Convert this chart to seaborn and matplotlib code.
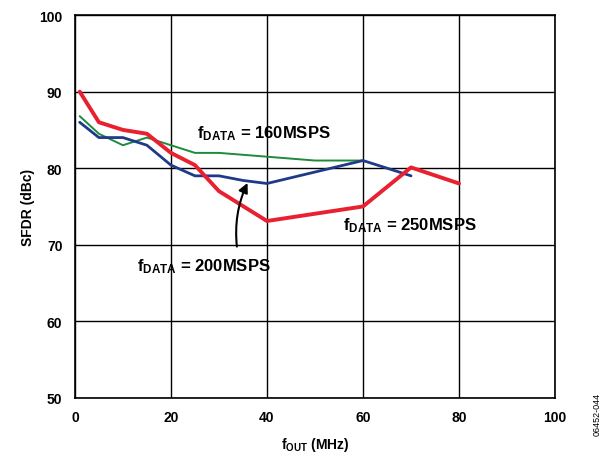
import pandas as pd
import matplotlib
matplotlib.use("Agg")
import matplotlib.pyplot as plt
import seaborn as sns

# SFDR vs fOUT for three data rates
f_160 = [1, 5, 10, 15, 20, 25, 30, 40, 50, 60]
sfdr_160 = [86.8, 84.5, 83.0, 84.0, 83.0, 82.0, 82.0, 81.5, 81.0, 81.0]

f_200 = [1, 5, 10, 15, 20, 25, 30, 35, 40, 60, 70]
sfdr_200 = [86.0, 84.0, 84.0, 83.0, 80.4, 79.0, 79.0, 78.4, 78.0, 81.0, 79.0]

f_250 = [1, 5, 10, 15, 20, 25, 30, 40, 60, 70, 80]
sfdr_250 = [90.0, 86.0, 85.0, 84.5, 82.0, 80.4, 77.0, 73.1, 75.0, 80.1, 78.0]

x_ticks = [0, 20, 40, 60, 80, 100]
y_ticks = [50, 60, 70, 80, 90, 100]

sns.set_style("white")
plt.rcParams['font.family'] = ['Liberation Sans', 'DejaVu Sans']
plt.rcParams['text.color'] = 'black'
plt.rcParams['axes.labelcolor'] = 'black'
plt.rcParams['xtick.color'] = 'black'
plt.rcParams['ytick.color'] = 'black'
plt.rcParams['mathtext.fontset'] = 'custom'
plt.rcParams['mathtext.rm'] = 'Liberation Sans:bold'
plt.rcParams['mathtext.bf'] = 'Liberation Sans:bold'
plt.rcParams['mathtext.it'] = 'Liberation Sans:bold'

df = pd.concat([
    pd.DataFrame({'f': f_160, 'sfdr': sfdr_160, 'rate': '160'}),
    pd.DataFrame({'f': f_200, 'sfdr': sfdr_200, 'rate': '200'}),
    pd.DataFrame({'f': f_250, 'sfdr': sfdr_250, 'rate': '250'}),
])

fig = plt.figure(figsize=(6.04, 4.6), dpi=100)
ax = fig.add_axes([0.124, 0.133, 0.795, 0.832])

colors = {'160': '#1e8a3c', '200': '#1f3a8a', '250': '#e8202f'}
widths = {'160': 1.4, '200': 2.0, '250': 2.8}
for rate in ['160', '200', '250']:
    sns.lineplot(data=df[df['rate'] == rate], x='f', y='sfdr', ax=ax,
                 color=colors[rate], linewidth=widths[rate], legend=False)

ax.set_xlim(0, 100)
ax.set_ylim(50, 100)
ax.set_xticks(x_ticks)
ax.set_yticks(y_ticks)
ax.set_xticklabels([str(t) for t in x_ticks], fontsize=10, fontweight='bold')
ax.set_yticklabels([str(t) for t in y_ticks], fontsize=10, fontweight='bold')
ax.grid(True, color='black', linewidth=1.0)
ax.set_axisbelow(True)
for s in ax.spines.values():
    s.set_color('black')
    s.set_linewidth(1.2)
ax.tick_params(axis='y', length=0, pad=9)
ax.tick_params(axis='x', length=0, pad=9)

ax.set_xlabel(r'f$_{\mathrm{OUT}}$ (MHz)', fontsize=10, fontweight='bold', labelpad=8)
ax.set_ylabel('SFDR (dBc)', fontsize=10, fontweight='bold', labelpad=3)

ax.text(25.4, 84.7, r'f$_{\mathrm{DATA}}$ = 160MSPS', fontsize=12, fontweight='bold', va='center')
ax.text(55.8, 72.6, r'f$_{\mathrm{DATA}}$ = 250MSPS', fontsize=12, fontweight='bold', va='center')
ax.text(12.9, 67.3, r'f$_{\mathrm{DATA}}$ = 200MSPS', fontsize=12, fontweight='bold', va='center')
ax.annotate('', xy=(36.2, 78.4), xytext=(33.8, 69.4),
            arrowprops=dict(arrowstyle='-|>', color='black', lw=1.5,
                            connectionstyle='arc3,rad=-0.15', mutation_scale=14))

fig.text(0.988, 0.10, '06452-044', rotation=90, fontsize=6.5, ha='center', va='center')

fig.savefig('out.png', dpi=100)
